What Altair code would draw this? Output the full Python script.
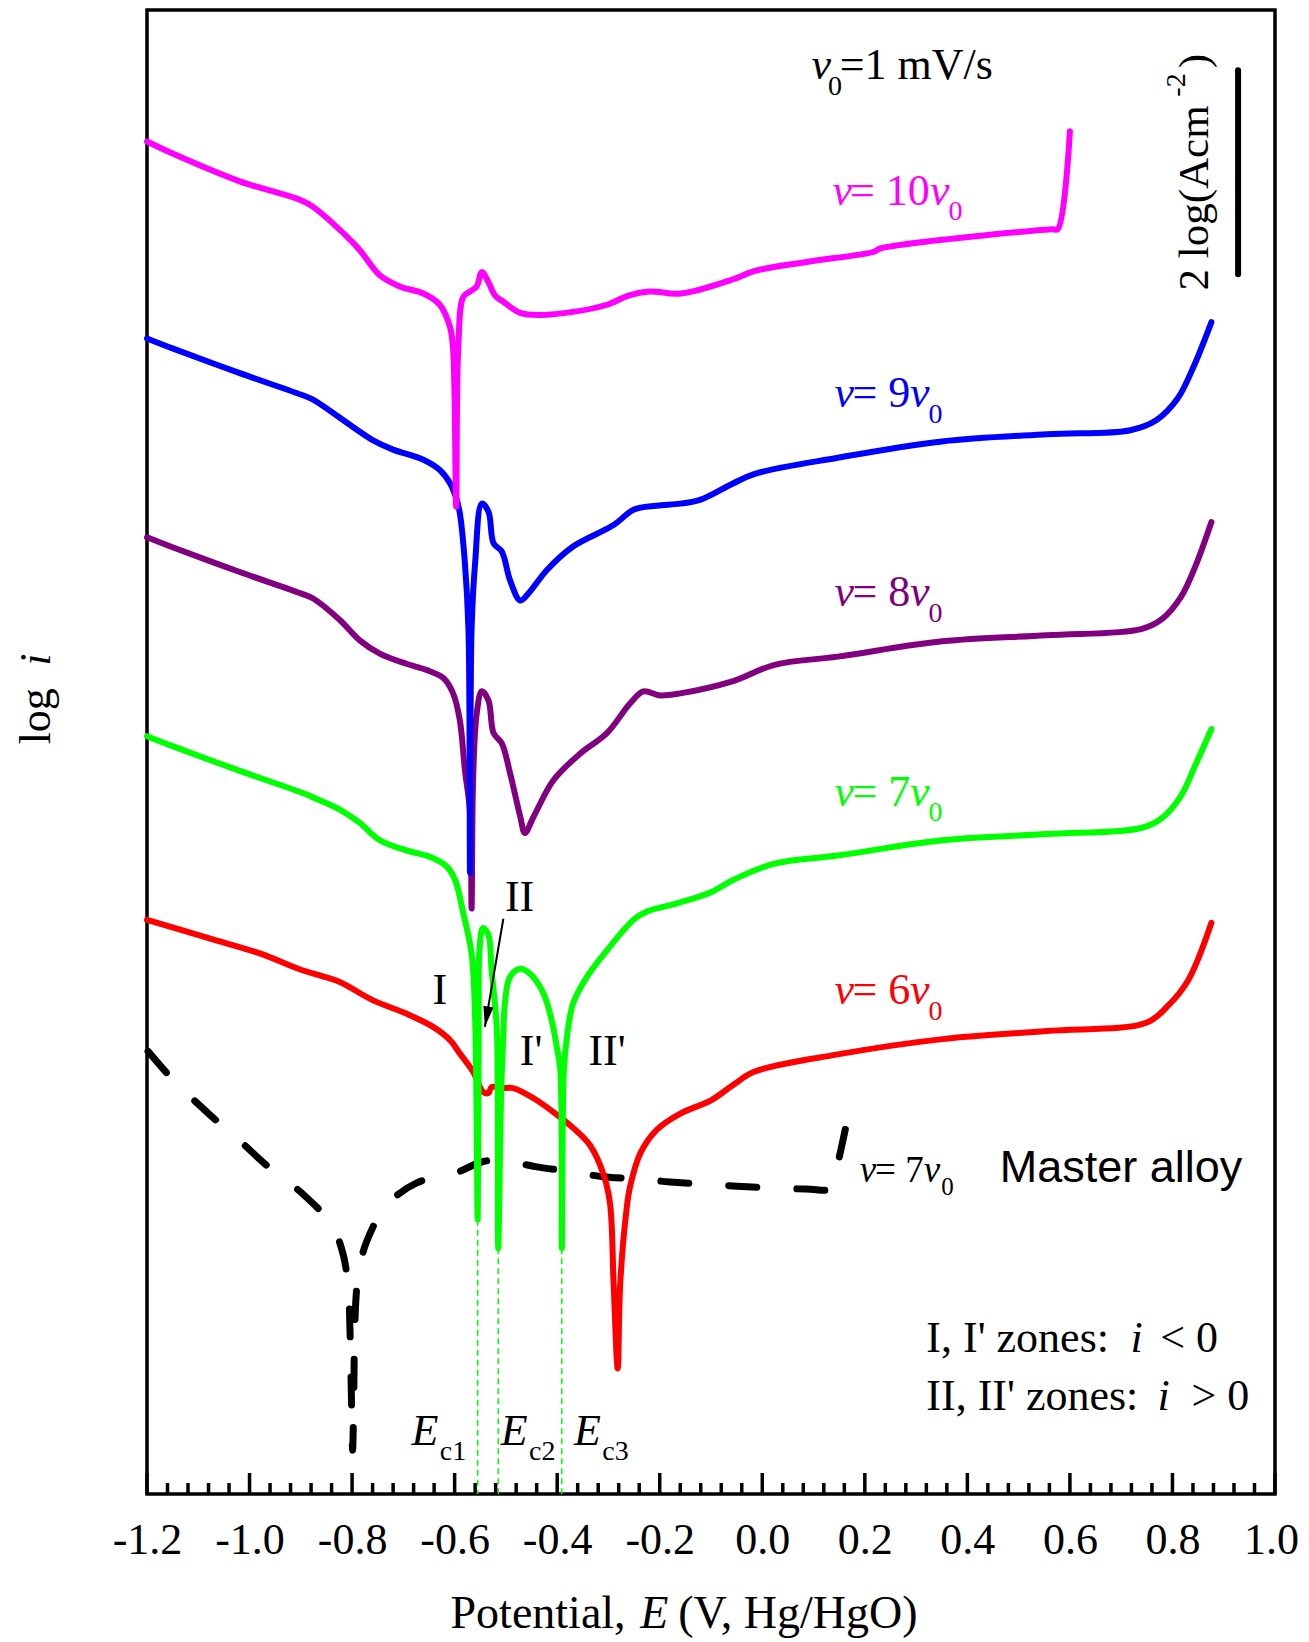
import altair as alt
import pandas as pd

# ---------------- data (E in V vs Hg/HgO, Y = log i, arbitrary offset, in decades) ----------------
pink_E = [-1.2, -1.149, -1.019, -0.902, -0.876, -0.791, -0.746, -0.707, -0.661, -0.629, -0.609, -0.603,
          -0.597, -0.593, -0.583, -0.570, -0.557, -0.547, -0.534, -0.521, -0.505, -0.472, -0.433, -0.369,
          -0.303, -0.261, -0.220, -0.159, -0.057, -0.016, 0.086, 0.218, 0.229, 0.565, 0.576, 0.600]
pink_Y = [13.26, 13.14, 12.87, 12.69, 12.62, 12.23, 11.95, 11.84, 11.77, 11.66, 11.44, 11.22,
          9.68, 11.22, 11.74, 11.79, 11.84, 11.98, 11.88, 11.75, 11.69, 11.58, 11.56, 11.59,
          11.66, 11.75, 11.79, 11.77, 11.91, 11.99, 12.08, 12.18, 12.21, 12.40, 12.40, 13.36]

blue_E = [-1.2, -1.149, -1.019, -0.895, -0.876, -0.759, -0.720, -0.661, -0.629, -0.609, -0.596, -0.590,
          -0.580, -0.573, -0.570, -0.567, -0.560, -0.547, -0.534, -0.524, -0.508, -0.492, -0.472, -0.456,
          -0.420, -0.369, -0.290, -0.251, -0.206, -0.160, -0.120, -0.060, -0.016, 0.147, 0.351, 0.555,
          0.718, 0.769, 0.810, 0.841, 0.876]
blue_Y = [11.33, 11.23, 10.99, 10.77, 10.73, 10.33, 10.24, 10.14, 10.04, 9.91, 9.75, 9.62,
          9.13, 8.47, 6.09, 8.47, 9.13, 9.71, 9.63, 9.32, 9.24, 8.96, 8.76, 8.83,
          9.06, 9.29, 9.50, 9.65, 9.69, 9.71, 9.75, 9.90, 10.00, 10.16, 10.32, 10.39,
          10.43, 10.53, 10.74, 11.05, 11.49]

purple_E = [-1.2, -1.149, -1.019, -0.895, -0.876, -0.824, -0.785, -0.746, -0.694, -0.655, -0.622, -0.603,
            -0.590, -0.580, -0.570, -0.567, -0.564, -0.557, -0.547, -0.534, -0.524, -0.508, -0.492, -0.472,
            -0.463, -0.446, -0.407, -0.355, -0.303, -0.258, -0.232, -0.199, -0.160, -0.057, 0.024, 0.147,
            0.351, 0.555, 0.739, 0.780, 0.816, 0.845, 0.876]
purple_Y = [9.38, 9.28, 9.04, 8.82, 8.78, 8.57, 8.37, 8.24, 8.14, 8.08, 8.00, 7.85,
            7.59, 7.10, 6.68, 5.74, 7.00, 7.65, 7.87, 7.78, 7.46, 7.36, 7.07, 6.64,
            6.48, 6.64, 7.00, 7.26, 7.46, 7.75, 7.87, 7.83, 7.85, 7.97, 8.13, 8.21,
            8.36, 8.42, 8.48, 8.58, 8.79, 9.10, 9.53]

green_E = [-1.2, -1.149, -1.019, -0.895, -0.876, -0.824, -0.785, -0.746, -0.694, -0.645, -0.615, -0.599,
           -0.583, -0.567, -0.560, -0.555, -0.553, -0.552, -0.547, -0.544, -0.534, -0.528, -0.518, -0.516,
           -0.515, -0.509, -0.505, -0.502, -0.492, -0.472, -0.453, -0.427, -0.411, -0.401, -0.394, -0.391,
           -0.387, -0.381, -0.369, -0.342, -0.303, -0.251, -0.225, -0.167, -0.100, -0.057, 0.024, 0.147,
           0.351, 0.555, 0.739, 0.780, 0.816, 0.845, 0.876]
green_Y = [7.43, 7.33, 7.09, 6.87, 6.83, 6.71, 6.58, 6.41, 6.31, 6.24, 6.15, 6.02,
           5.69, 5.30, 4.65, 2.69, 4.65, 5.30, 5.53, 5.55, 5.48, 5.14, 4.58, 3.99,
           2.41, 3.99, 4.48, 4.81, 5.07, 5.15, 5.10, 4.91, 4.65, 4.39, 4.16, 2.41,
           4.16, 4.48, 4.81, 5.07, 5.33, 5.63, 5.71, 5.79, 5.90, 6.02, 6.18, 6.26,
           6.41, 6.47, 6.53, 6.63, 6.84, 7.15, 7.50]

red_E = [-1.2, -1.08, -0.98, -0.90, -0.86, -0.824, -0.759, -0.694, -0.642, -0.609, -0.590, -0.564,
         -0.544, -0.534, -0.528, -0.505, -0.486, -0.446, -0.401, -0.369, -0.336, -0.310, -0.297, -0.290,
         -0.282, -0.277, -0.264, -0.258, -0.238, -0.206, -0.160, -0.100, -0.057, -0.016, 0.147, 0.351,
         0.555, 0.749, 0.790, 0.831, 0.876]
red_Y = [5.63, 5.45, 5.30, 5.14, 5.08, 5.02, 4.84, 4.71, 4.58, 4.45, 4.32, 4.14,
         3.94, 3.93, 3.99, 3.98, 3.98, 3.88, 3.72, 3.59, 3.42, 3.14, 2.85, 2.07,
         1.23, 2.07, 2.82, 3.01, 3.34, 3.57, 3.73, 3.86, 4.01, 4.14, 4.31, 4.46,
         4.54, 4.62, 4.78, 5.04, 5.60]

master_E = [-1.198, -1.149, -1.080, -1.025, -0.957, -0.898, -0.840, -0.817, -0.807, -0.804, -0.801, -0.799,
            -0.797, -0.795, -0.792, -0.788, -0.772, -0.733, -0.674, -0.602, -0.544, -0.505, -0.443, -0.372,
            -0.310, -0.242, -0.180, 0.085, 0.135, 0.150, 0.168]
master_Y = [4.34, 4.06, 3.73, 3.49, 3.18, 2.95, 2.64, 2.34, 1.98, 1.58, 0.87, 0.43,
            0.87, 1.60, 1.95, 2.16, 2.47, 2.83, 3.05, 3.14, 3.26, 3.27, 3.21, 3.16,
            3.11, 3.09, 3.06, 2.99, 3.00, 3.30, 3.72]

# critical potentials E_c1, E_c2, E_c3 (green dotted guides from the spike tips to the axis)
ec_E = [-0.555, -0.515, -0.391]
ec_Ytop = [2.69, 2.41, 2.41]

major_ticks = [-1.2, -1.0, -0.8, -0.6, -0.4, -0.2, 0.0, 0.2, 0.4, 0.6, 0.8, 1.0]
minor_ticks = [-1.16, -1.12, -1.08, -1.04, -0.96, -0.92, -0.88, -0.84, -0.76, -0.72, -0.68, -0.64,
               -0.56, -0.52, -0.48, -0.44, -0.36, -0.32, -0.28, -0.24, -0.16, -0.12, -0.08, -0.04,
               0.04, 0.08, 0.12, 0.16, 0.24, 0.28, 0.32, 0.36, 0.44, 0.48, 0.52, 0.56,
               0.64, 0.68, 0.72, 0.76, 0.84, 0.88, 0.92, 0.96]

# scale bar: 2 decades
bar_E = [0.928]
bar_Y0 = [11.96]
bar_Y1 = [13.96]

# arrow for zone II
arrow_E = [-0.505]
arrow_Y = [5.64]
arrow_E2 = [-0.541]
arrow_Y2 = [4.58]

# text pieces (regular serif, horizontal)
reg_t = ["=1 mV/s", "0",
         "= 10", "0", "= 9", "0", "= 8", "0", "= 7", "0", "= 6", "0",
         "= 7", "0",
         "I, I' zones: ", "< 0", "II, II' zones: ", "> 0",
         "c1", "c2", "c3",
         "I", "II", "I'", "II'",
         "Potential, ", "(V, Hg/HgO)"]
reg_E = [0.151, 0.128,
         0.171, 0.363, 0.176, 0.324, 0.176, 0.324, 0.176, 0.324, 0.176, 0.324,
         0.220, 0.349,
         0.320, 0.776, 0.320, 0.837,
         -0.629, -0.455, -0.312,
         -0.643, -0.502, -0.473, -0.339,
         -0.608, -0.164]
reg_Y = [13.87, 13.72,
         12.64, 12.49, 10.66, 10.50, 8.71, 8.55, 6.75, 6.60, 4.80, 4.65,
         3.06, 2.93,
         1.39, 1.39, 0.82, 0.82,
         0.33, 0.33, 0.33,
         4.80, 5.72, 4.21, 4.21,
         -1.31, -1.31]
reg_s = [44, 28,
         44, 28, 44, 28, 44, 28, 44, 28, 44, 28,
         37, 25,
         44, 44, 44, 44,
         28, 28, 28,
         44, 44, 44, 44,
         46, 46]
reg_c = ["black", "black",
         "#FF00FF", "#FF00FF", "#0000FF", "#0000FF", "#800080", "#800080",
         "#00FF00", "#00FF00", "#FF0000", "#FF0000",
         "black", "black",
         "black", "black", "black", "black",
         "black", "black", "black",
         "black", "black", "black", "black",
         "black", "black"]

# italic serif pieces, horizontal
ita_t = ["v", "v", "v", "v", "v", "v", "v", "v", "v", "v", "v", "v", "v",
         "i", "i", "E", "E", "E", "E"]
ita_E = [0.096, 0.137, 0.327, 0.141, 0.288, 0.141, 0.288, 0.141, 0.288, 0.141, 0.288, 0.190, 0.315,
         0.718, 0.771, -0.684, -0.510, -0.367, -0.238]
ita_Y = [13.87, 12.64, 12.64, 10.66, 10.66, 8.71, 8.71, 6.75, 6.75, 4.80, 4.80, 3.06, 3.06,
         1.39, 0.82, 0.48, 0.48, 0.48, -1.31]
ita_s = [44, 44, 44, 44, 44, 44, 44, 44, 44, 44, 44, 37, 37,
         44, 44, 44, 44, 44, 46]
ita_c = ["black", "#FF00FF", "#FF00FF", "#0000FF", "#0000FF", "#800080", "#800080",
         "#00FF00", "#00FF00", "#FF0000", "#FF0000", "black", "black",
         "black", "black", "black", "black", "black", "black"]

sans_t = ["Master alloy"]
sans_E = [0.463]
sans_Y = [3.06]

# rotated pieces (reading upward)
rot_t = ["log ", "2 log(Acm", "-2", ")"]
rot_E = [-1.390, 0.869, 0.825, 0.869]
rot_Y = [7.35, 11.80, 13.70, 13.98]
rot_s = [44, 43, 28, 43]
roti_t = ["i"]
roti_E = [-1.390]
roti_Y = [8.12]

# ---------------- chart ----------------
W, H = 1128, 1484
SERIF = "Liberation Serif"
SANS = "Liberation Sans"

xs = alt.Scale(domain=[-1.2, 1.0], nice=False, zero=False)
ys = alt.Scale(domain=[0, 14.55], nice=False, zero=False)

x_axis = alt.Axis(values=major_ticks, ticks=False, tickSize=0, domain=False, grid=False,
                  labelFont=SERIF, labelFontSize=44, labelColor="black", labelPadding=24,
                  labelExpr="(datum.value < 0 ? '-' : '') + format(abs(datum.value), '.1f')",
                  labelOffset={"condition": {"test": "datum.value > 0.9", "value": -4}, "value": 0},
                  labelFlush=False, labelOverlap=False, title=None)


def X(f):
    return alt.X(f, type="quantitative", scale=xs, axis=x_axis)


def Y(f):
    return alt.Y(f, type="quantitative", scale=ys, axis=None)


def curve(E, Yv):
    return pd.DataFrame({"E": E, "Y": Yv, "i": list(range(len(E)))})


def line_layer(E, Yv, color, **kw):
    return alt.Chart(curve(E, Yv)).mark_line(color=color, strokeCap="round", strokeJoin="round",
                                             interpolate="catmull-rom", **kw).encode(
        x=X("E"), y=Y("Y"), order=alt.Order("i:Q"))


master = line_layer(master_E, master_Y, "black", strokeWidth=7, strokeDash=[28, 40])
red = line_layer(red_E, red_Y, "#FF0000", strokeWidth=6)
green = line_layer(green_E, green_Y, "#00FF00", strokeWidth=6)
purple = line_layer(purple_E, purple_Y, "#800080", strokeWidth=6)
blue = line_layer(blue_E, blue_Y, "#0000FF", strokeWidth=6)
pink = line_layer(pink_E, pink_Y, "#FF00FF", strokeWidth=6)

ec_df = pd.DataFrame({"E": ec_E, "Yt": ec_Ytop, "Y0": [0.0] * len(ec_E)})
ec_lines = alt.Chart(ec_df).mark_rule(color="#00FF00", strokeWidth=1.5, strokeDash=[6, 4]).encode(
    x=X("E"), y=Y("Yt"), y2=alt.Y2("Y0"))

maj_df = pd.DataFrame({"E": major_ticks})
min_df = pd.DataFrame({"E": minor_ticks})
maj_rules = alt.Chart(maj_df).mark_rule(color="black", strokeWidth=3.5).encode(
    x=X("E"), y=alt.value(H), y2=alt.value(H - 21))
min_rules = alt.Chart(min_df).mark_rule(color="black", strokeWidth=3.5).encode(
    x=X("E"), y=alt.value(H), y2=alt.value(H - 11))

bar_df = pd.DataFrame({"E": bar_E, "Y0": bar_Y0, "Y1": bar_Y1})
bar = alt.Chart(bar_df).mark_rule(color="black", strokeWidth=6, strokeCap="round").encode(
    x=X("E"), y=Y("Y0"), y2=alt.Y2("Y1"))

arr_df = pd.DataFrame({"E": arrow_E, "Y": arrow_Y, "E2": arrow_E2, "Y2": arrow_Y2})
arrow_line = alt.Chart(arr_df).mark_rule(color="black", strokeWidth=2).encode(
    x=X("E"), y=Y("Y"), x2=alt.X2("E2"), y2=alt.Y2("Y2"))
arrow_head = alt.Chart(arr_df).mark_point(
    shape="M -0.5 -2 L 0.5 -2 L 0 0 Z", filled=True, color="black", size=420, angle=10, opacity=1).encode(
    x=X("E2"), y=Y("Y2"))


def text_layer(t, E, Yv, s, c, font, style="normal", angle=0):
    df = pd.DataFrame({"t": t, "E": E, "Y": Yv, "s": s, "c": c})
    return alt.Chart(df).mark_text(font=font, fontStyle=style, align="left", baseline="alphabetic",
                                   angle=angle).encode(
        x=X("E"), y=Y("Y"), text=alt.Text("t:N"),
        size=alt.Size("s:Q", scale=None, legend=None),
        color=alt.Color("c:N", scale=None, legend=None))


reg_text = text_layer(reg_t, reg_E, reg_Y, reg_s, reg_c, SERIF)
ita_text = text_layer(ita_t, ita_E, ita_Y, ita_s, ita_c, SERIF, style="italic")
sans_text = text_layer(sans_t, sans_E, sans_Y, [45], ["black"], SANS)
rot_text = text_layer(rot_t, rot_E, rot_Y, rot_s, ["black"] * len(rot_t), SERIF, angle=270)
roti_text = text_layer(roti_t, roti_E, roti_Y, [44], ["black"], SERIF, style="italic", angle=270)

chart = alt.layer(
    master, ec_lines, red, green, purple, blue, pink,
    maj_rules, min_rules, bar, arrow_line, arrow_head,
    reg_text, ita_text, sans_text, rot_text, roti_text
).properties(
    width=W, height=H,
    autosize=alt.AutoSizeParams(type="none"),
    padding={"left": 139, "top": 2, "right": 26, "bottom": 148},
).configure_view(stroke="black", strokeWidth=3.5)

chart.save("out.html", embed_options={"renderer": "svg", "actions": False})
